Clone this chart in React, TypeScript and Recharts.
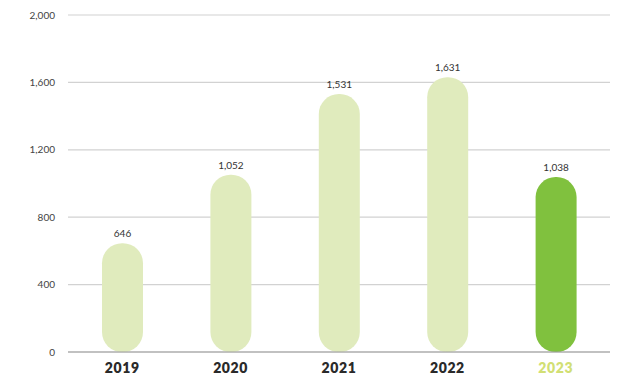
import React from "react";
import { BarChart, Bar, XAxis, YAxis, CartesianGrid, LabelList, Cell } from "recharts";

const years = ["2019", "2020", "2021", "2022", "2023"];
const values = [646, 1052, 1531, 1631, 1038];
const yTicks = [0, 400, 800, 1200, 1600, 2000];
const highlightYear = "2023";

const data = years.map((y, i) => ({ year: y, value: values[i] }));

const fmt = (v: number) => v.toLocaleString("en-US");

const XTick = (props: any) => {
  const { x, y, payload } = props;
  const hl = payload.value === highlightYear;
  return (
    <text x={x} y={y + 13} textAnchor="middle" fontFamily="Lato, 'Open Sans', sans-serif" fontWeight={800} fontSize={14} fill={hl ? "#d2df74" : "#2a2a2a"} letterSpacing={0.6}>
      {payload.value}
    </text>
  );
};

export default function App() {
  return (
    <div style={{ width: 616, height: 374, background: "#fff" }}>
      <BarChart width={616} height={374} data={data} margin={{ top: 7, right: 14, bottom: 0, left: 0 }} barSize={41}>
        <CartesianGrid vertical={false} stroke="#d2d2d2" strokeWidth={1.2} />
        <XAxis dataKey="year" axisLine={{ stroke: "#9a9a9a" }} tickLine={false} height={30} tick={<XTick />} />
        <YAxis
          width={60}
          domain={[0, 2000]}
          ticks={yTicks}
          axisLine={false}
          tickLine={false}
          tickMargin={7}
          tickFormatter={fmt}
          tick={{ fontSize: 10, fill: "#444", fontFamily: "Lato, 'Open Sans', sans-serif" }}
        />
        <Bar dataKey="value" radius={[20, 20, 20, 20]} isAnimationActive={false}>
          {data.map((d) => (
            <Cell key={d.year} fill={d.year === highlightYear ? "#80c13e" : "#e0ebbd"} />
          ))}
          <LabelList dataKey="value" position="top" offset={6} formatter={(v: any) => fmt(Number(v))} style={{ fontSize: 10, fill: "#333", fontFamily: "Lato, 'Open Sans', sans-serif" }} />
        </Bar>
      </BarChart>
    </div>
  );
}
